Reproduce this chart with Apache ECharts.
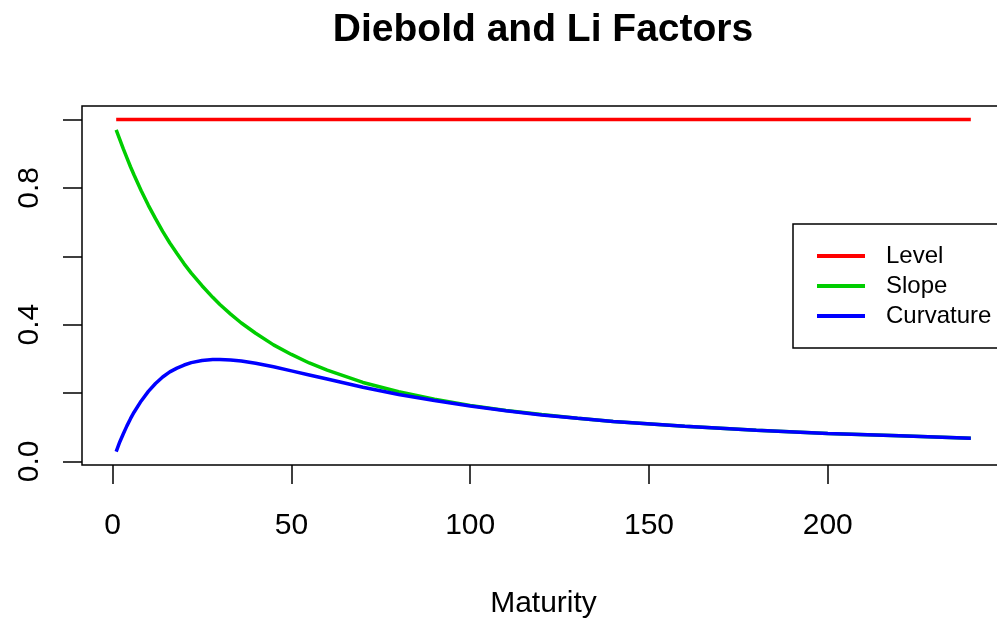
<!DOCTYPE html>
<html>
<head>
<meta charset="utf-8">
<script src="https://cdn.jsdelivr.net/npm/echarts@6/dist/echarts.min.js"></script>
<style>
  html, body { margin: 0; padding: 0; background: #fff; }
  #chart { width: 997px; height: 618px; }
</style>
</head>
<body>
<div id="chart"></div>
<script>
// values (maturity in months)
const maturities = [1, 2, 3, 4, 5, 6, 8, 10, 12, 14, 16, 18, 20, 22, 25, 28, 30, 33, 36, 40,
  45, 50, 55, 60, 70, 80, 90, 100, 110, 120, 130, 140, 160, 180, 200, 220, 240];
const level = maturities.map(() => 1);
const slope = [0.970, 0.942, 0.914, 0.888, 0.862, 0.838, 0.792, 0.749, 0.710, 0.673, 0.639, 0.608,
  0.578, 0.551, 0.514, 0.480, 0.459, 0.431, 0.405, 0.375, 0.341, 0.313, 0.288, 0.267, 0.231,
  0.204, 0.182, 0.164, 0.149, 0.137, 0.126, 0.117, 0.103, 0.091, 0.082, 0.075, 0.068];
const curvature = [0.029, 0.057, 0.081, 0.104, 0.125, 0.144, 0.177, 0.205, 0.228, 0.247, 0.262,
  0.273, 0.282, 0.289, 0.295, 0.298, 0.298, 0.297, 0.294, 0.287, 0.277, 0.265, 0.253, 0.241,
  0.217, 0.196, 0.178, 0.162, 0.148, 0.136, 0.126, 0.117, 0.103, 0.091, 0.082, 0.075, 0.068];

const xTicks = [0, 50, 100, 150, 200];
const yTicks = [0, 0.2, 0.4, 0.6, 0.8, 1.0];
const yLabels = [0, 0.4, 0.8];

const seriesNames = ['Level', 'Slope', 'Curvature'];
const seriesColors = ['#ff0000', '#00cd00', '#0000ff'];
const seriesValues = [level, slope, curvature];

const font = 'Liberation Sans, Arial, sans-serif';

let chart = echarts.init(document.getElementById('chart'));

let option = {
  animation: false,
  backgroundColor: '#fff',
  title: {
    text: 'Diebold and Li Factors',
    left: 543,
    top: 11,
    padding: 0,
    textAlign: 'center',
    textStyle: { fontFamily: font, fontSize: 39, fontWeight: 'bold', color: '#000' }
  },
  legend: {
    orient: 'vertical',
    left: 793,
    top: 224,
    padding: [17, 24, 17, 24],
    itemWidth: 48,
    itemHeight: 4,
    itemGap: 0,
    icon: 'rect',
    borderColor: '#000',
    borderWidth: 1.5,
    data: seriesNames,
    textStyle: {
      fontFamily: font, fontSize: 24, color: '#000', lineHeight: 30,
      padding: [0, 0, 0, 16]
    }
  },
  grid: {
    show: true,
    left: 82,
    top: 106,
    width: 923,
    height: 359,
    outerBoundsMode: 'none',
    containLabel: false,
    borderColor: '#000',
    borderWidth: 1.5,
    backgroundColor: 'transparent'
  },
  xAxis: {
    type: 'value',
    min: -8.56,
    max: 249.56,
    name: 'Maturity',
    nameLocation: 'middle',
    nameGap: 124,
    nameTextStyle: { fontFamily: font, fontSize: 30, color: '#000' },
    axisLine: { show: false, onZero: false },
    splitLine: { show: false },
    axisTick: {
      show: true, inside: false, length: 19,
      customValues: xTicks,
      lineStyle: { color: '#000', width: 1.5 }
    },
    axisLabel: {
      customValues: xTicks,
      margin: 46,
      fontFamily: font, fontSize: 30, color: '#000'
    }
  },
  yAxis: {
    type: 'value',
    min: -0.0104,
    max: 1.0396,
    axisLine: { show: false, onZero: false },
    splitLine: { show: false },
    axisTick: {
      show: true, inside: false, length: 19,
      customValues: yTicks,
      lineStyle: { color: '#000', width: 1.5 }
    },
    axisLabel: {
      customValues: yLabels,
      rotate: 90,
      margin: 37,
      fontFamily: font, fontSize: 30, color: '#000',
      formatter: v => v.toFixed(1)
    }
  },
  series: seriesNames.map((name, i) => ({
    name: name,
    type: 'line',
    showSymbol: false,
    color: seriesColors[i],
    lineStyle: { width: 3.5, color: seriesColors[i] },
    data: maturities.map((m, j) => [m, seriesValues[i][j]])
  }))
};

chart.setOption(option);
</script>
</body>
</html>
